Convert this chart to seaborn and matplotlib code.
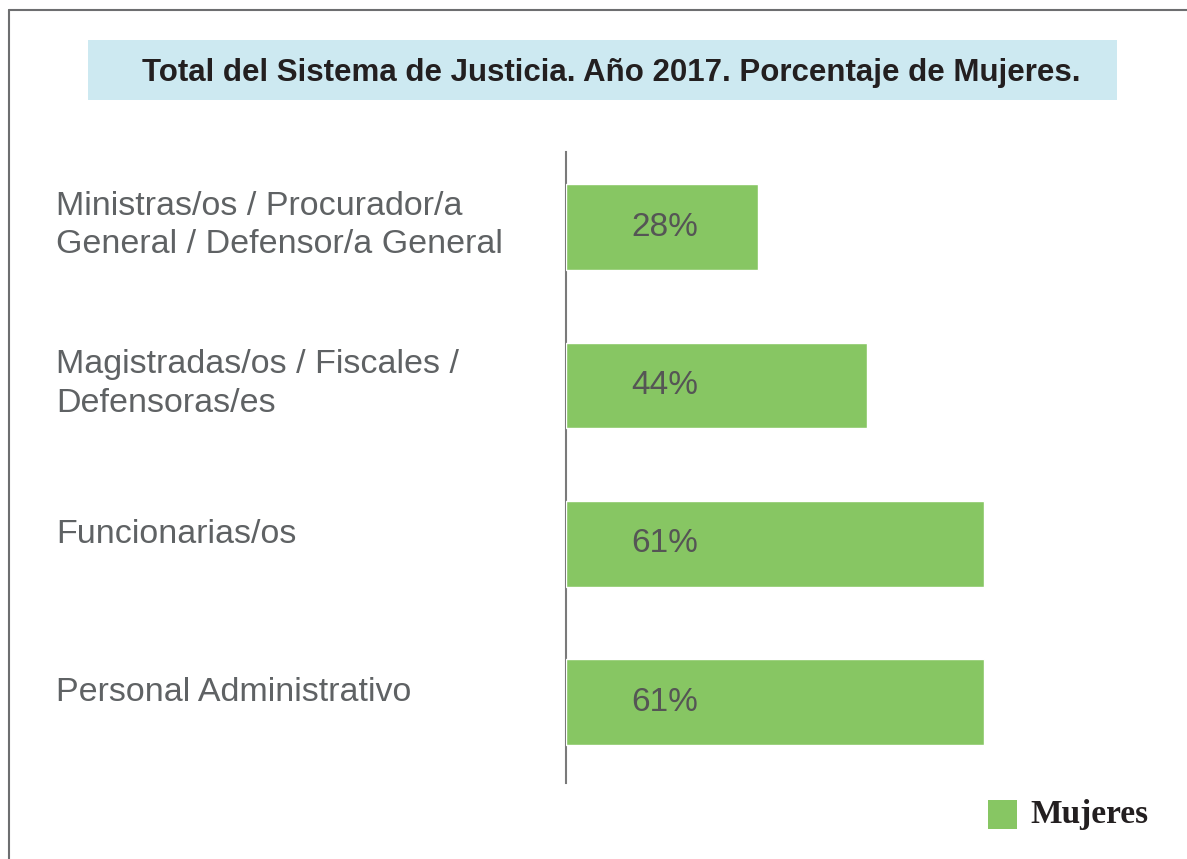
import numpy as np
import pandas as pd
import matplotlib.pyplot as plt
from matplotlib.patches import Rectangle
from matplotlib.lines import Line2D
from matplotlib.transforms import blended_transform_factory
import seaborn as sns

categorias = [
    "Ministras/os / Procurador/a\nGeneral / Defensor/a General",
    "Magistradas/os / Fiscales /\nDefensoras/es",
    "Funcionarias/os",
    "Personal Administrativo",
]
porcentajes = [28, 44, 61, 61]
etiquetas = ["28%", "44%", "61%", "61%"]
titulo = "Total del Sistema de Justicia. Año 2017. Porcentaje de Mujeres."
leyenda = "Mujeres"

verde = "#87c663"
celeste = "#cde9f1"
gris_txt = "#5f6264"

W, H = 1187, 859
sns.set_style("white")
plt.rcParams['font.family'] = ['Liberation Sans', 'DejaVu Sans']

fig = plt.figure(figsize=(W / 100, H / 100), dpi=100)

def fx(px):
    return px / W

def fy(py):
    return 1 - py / H

# marco (solo arriba e izquierda)
fig.add_artist(Line2D([fx(9), 1], [fy(10), fy(10)], color="#6d6e70", lw=1.5))
fig.add_artist(Line2D([fx(9), fx(9)], [fy(10), 0], color="#6d6e70", lw=1.5))

# caja del titulo
fig.add_artist(Rectangle((fx(88), fy(100)), fx(1117) - fx(88), fy(40) - fy(100),
                         facecolor=celeste, edgecolor="none"))
fig.text(fx(611), fy(73), titulo, ha="center", va="center",
         fontsize=22.5, fontweight="bold", color="#231f20")

# ejes
ax = fig.add_axes([fx(566), fy(783), fx(1100) - fx(566), fy(152) - fy(783)])
df = pd.DataFrame({"cat": categorias, "val": porcentajes})
sns.barplot(data=df, x="val", y="cat", orient="h", color=verde, width=0.54,
            saturation=1, ax=ax)
ax.set_xlim(0, 78)
ax.set_ylim(3.51, -0.474)
ax.set_xlabel("")
ax.set_ylabel("")
ax.set_xticks([])
ax.set_yticks([])
for s in ["top", "right", "bottom"]:
    ax.spines[s].set_visible(False)
ax.spines["left"].set_color("#7a7a7a")
ax.spines["left"].set_linewidth(1.5)
ax.spines["left"].set_zorder(0)

trans = blended_transform_factory(fig.transFigure, ax.transData)
for i, (cat, et) in enumerate(zip(categorias, etiquetas)):
    n = cat.count("\n")
    ax.text(fx(56), i - 0.06 + 0.05 * n, cat, transform=trans, ha="left", va="center",
            fontsize=24.5, color=gris_txt, linespacing=1.32)
    ax.text(9.5, i, et, ha="left", va="center", fontsize=24, color="#555555")

# leyenda
fig.add_artist(Rectangle((fx(988), fy(829)), fx(1017) - fx(988), fy(800) - fy(829),
                         facecolor=verde, edgecolor="none"))
fig.text(fx(1030), fy(815), leyenda, ha="left", va="center", fontsize=24,
         fontweight="bold", color="#231f20", family=["Liberation Serif", "DejaVu Serif"])

fig.savefig("out.png", dpi=100)
